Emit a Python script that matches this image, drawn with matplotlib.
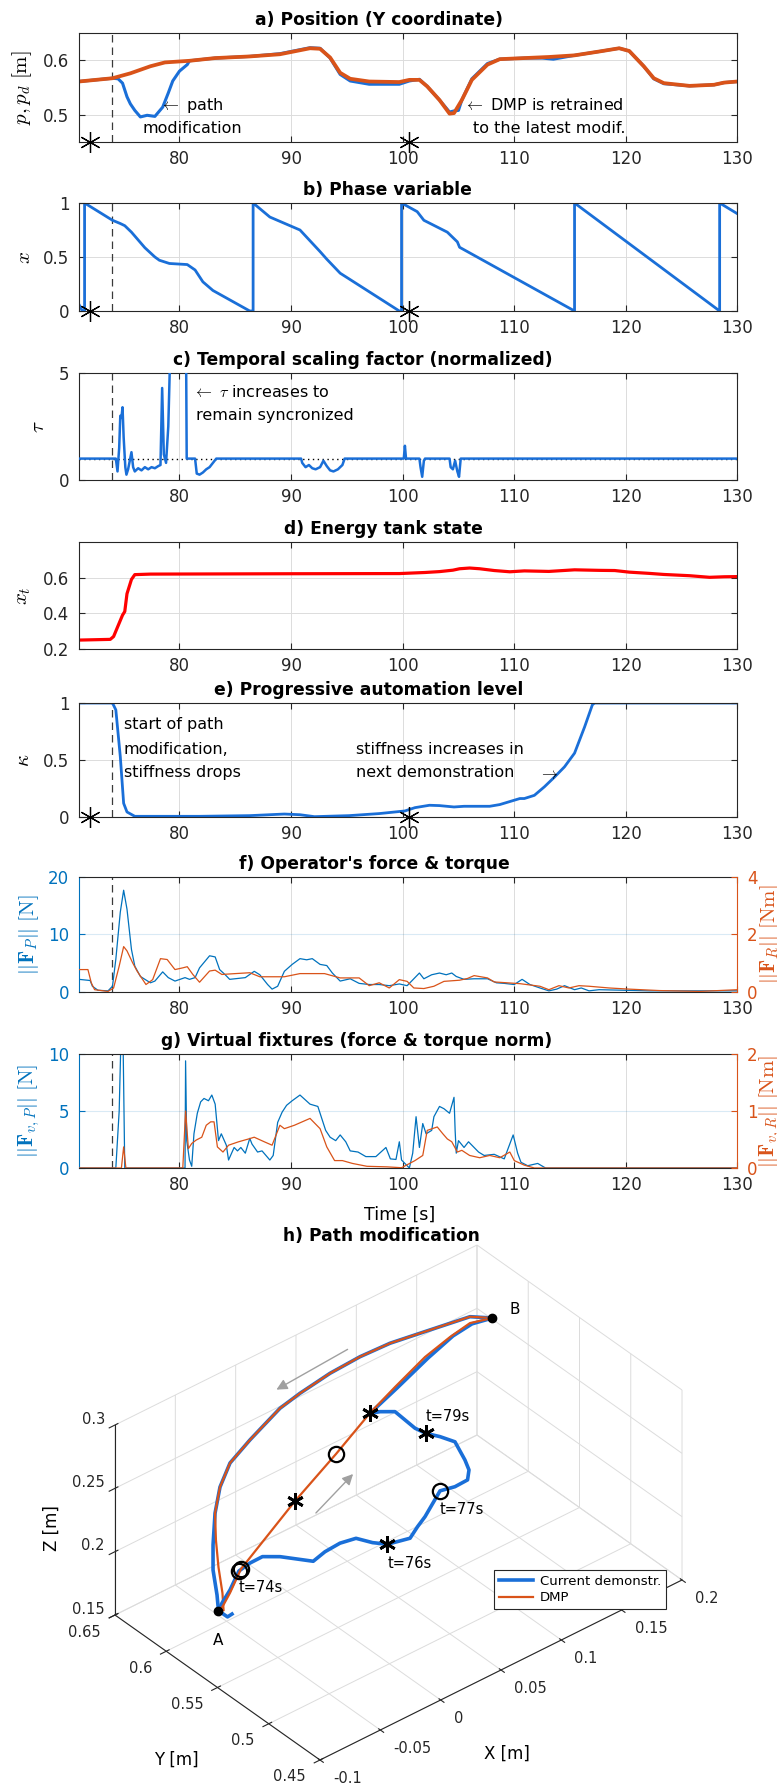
import matplotlib
matplotlib.use('Agg')
import matplotlib.pyplot as plt
import numpy as np

plt.rcParams['font.family'] = ['DejaVu Sans']
plt.rcParams['mathtext.fontset'] = 'cm'

BLUE = '#1A6FD8'
ORANGE = '#D95319'
MBLUE = '#0072BD'
RED = '#FF0000'
AXC = '#262626'
GRIDC = '#DCDCDC'

# ---------------- data ----------------
x_ticks = [80, 90, 100, 110, 120, 130]
t_mod_start = 74.0
t_star = [72.0, 100.6]

# a) position
t_pd = [71, 74, 75.6, 77.4, 78.7, 80.9, 83.2, 86.3, 89, 91.7, 92.6, 93.5, 94.4, 95.3, 97, 99.7,
        100.6, 101.5, 102.2, 103.3, 104.2, 104.6, 105.3, 106.2, 107.6, 108.7, 110.9, 113.1,
        115.4, 117.6, 119.4, 120.3, 121.6, 122.5, 123.4, 125.7, 127.9, 128.8, 130]
p_d = [0.561, 0.567, 0.576, 0.589, 0.596, 0.599, 0.604, 0.607, 0.611, 0.622, 0.621, 0.605,
       0.577, 0.566, 0.561, 0.560, 0.564, 0.564, 0.552, 0.527, 0.502, 0.503, 0.527, 0.564,
       0.592, 0.602, 0.604, 0.606, 0.609, 0.616, 0.622, 0.617, 0.589, 0.567, 0.558, 0.553,
       0.555, 0.559, 0.561]
t_p = [71, 74, 74.5, 74.9, 75.3, 75.6, 76, 76.5, 77.1, 77.8, 78.5, 79.0, 79.4, 80, 80.7, 80.9,
       83.2, 86.3, 89, 91.7, 92.6, 93.5, 94.4, 95.3, 97, 99.7, 100.6, 101.5, 102.2, 103.3,
       104.2, 104.6, 105.0, 105.3, 106.2, 107.6, 108.7, 110.9, 112.5, 113.5, 115.4, 117.6,
       119.4, 120.3, 121.6, 122.5, 123.4, 125.7, 127.9, 128.8, 130]
p_y = [0.561, 0.567, 0.566, 0.558, 0.533, 0.520, 0.508, 0.496, 0.499, 0.497, 0.514, 0.540,
       0.562, 0.580, 0.592, 0.599, 0.604, 0.607, 0.612, 0.623, 0.622, 0.604, 0.574, 0.562,
       0.556, 0.556, 0.562, 0.565, 0.552, 0.527, 0.505, 0.507, 0.508, 0.527, 0.566, 0.594,
       0.602, 0.604, 0.604, 0.602, 0.609, 0.616, 0.622, 0.617, 0.589, 0.566, 0.557, 0.553,
       0.555, 0.559, 0.561]

# b) phase variable
t_phase = [71.0, 71.3, 71.5, 71.5, 74.0, 74.7, 75.1, 75.4, 75.7, 76.9, 77.8, 78.2, 79.1, 80.7,
           81.4, 82.1, 83.0, 86.3, 86.6, 86.6, 88.1, 90.8, 91.7, 92.6, 93.2, 94.4, 99.7, 99.9,
           99.9, 101.3, 101.9, 104.0, 104.6, 104.9, 105.1, 115.4, 115.4, 128.4, 128.4, 130.0]
phase = [0.06, 0.0, 0.0, 1.0, 0.84, 0.81, 0.79, 0.76, 0.73, 0.586, 0.50, 0.47, 0.44, 0.43,
         0.38, 0.27, 0.19, 0.0, 0.0, 1.0, 0.87, 0.75, 0.65, 0.55, 0.48, 0.35, 0.0, 0.0,
         1.0, 0.92, 0.84, 0.73, 0.67, 0.64, 0.59, 0.0, 1.0, 0.0, 1.0, 0.90]

# c) temporal scaling
t_tau = [71.0, 74.3, 74.45, 74.6, 74.7, 74.8, 74.9, 75.0, 75.15, 75.25, 75.4, 75.55, 75.7,
         75.85, 76.0, 76.3, 76.6, 76.9, 77.2, 77.5, 77.8, 78.1, 78.3, 78.45, 78.6, 78.8, 79.0,
         79.15, 80.6, 80.65, 81.4, 81.55, 81.8, 82.1, 82.4, 82.7, 83.0, 83.3, 90.9, 91.0, 91.3,
         91.6, 91.9, 92.2, 92.6, 92.9, 93.2, 93.5, 93.8, 94.2, 94.6, 94.8, 100.1, 100.2, 100.3,
         101.5, 101.6, 101.75, 101.9, 102.0, 104.2, 104.3, 104.5, 104.7, 104.9, 105.05, 105.2,
         130.0]
tau = [1.0, 1.0, 0.4, 1.5, 3.0, 2.9, 3.4, 2.0, 0.6, 0.25, 0.5, 0.9, 1.3, 0.6, 0.4, 0.55, 0.45,
       0.6, 0.5, 0.6, 0.55, 0.65, 0.7, 4.3, 1.2, 0.8, 2.5, 5.5, 5.5, 1.0, 1.0, 0.3, 0.25, 0.35,
       0.5, 0.6, 0.8, 1.0, 1.0, 0.8, 0.6, 0.7, 0.55, 0.5, 0.6, 0.9, 0.65, 0.45, 0.4, 0.5, 0.7,
       1.0, 1.0, 1.6, 1.0, 1.0, 0.6, 0.15, 0.9, 1.0, 1.0, 0.6, 0.5, 0.9, 0.4, 0.15, 1.0, 1.0]
tau_nominal = 1.0

# d) energy tank
t_tank = [71, 73.8, 74.1, 74.4, 74.9, 75.1, 75.3, 75.7, 76, 77.4, 90, 99.7, 102, 103.3, 104.5,
          105.1, 106, 106.9, 108.2, 109.6, 110.9, 113.1, 115.4, 117.6, 119, 120.3, 122.1, 123.4,
          125.7, 127.5, 128.8, 130]
tank = [0.25, 0.254, 0.27, 0.315, 0.39, 0.41, 0.51, 0.59, 0.617, 0.62, 0.622, 0.623, 0.629,
        0.634, 0.642, 0.650, 0.654, 0.650, 0.640, 0.633, 0.638, 0.635, 0.644, 0.641, 0.640,
        0.631, 0.624, 0.618, 0.611, 0.602, 0.605, 0.606]

# e) automation level
t_kappa = [71, 74.0, 74.3, 74.7, 75.0, 75.3, 76, 81.8, 86.3, 89.4, 90.8, 92.1, 95.2, 97.9,
           100.2, 101.1, 102.4, 103.3, 104.6, 105.5, 107.8, 108.7, 110.5, 110.9, 111.8, 112.7,
           113.6, 114.5, 115.4, 116.3, 117.0, 117.2, 130]
kappa = [1, 1, 0.94, 0.53, 0.12, 0.044, 0.006, 0.006, 0.012, 0.026, 0.02, 0.003, 0.012, 0.03,
         0.053, 0.082, 0.103, 0.10, 0.088, 0.094, 0.094, 0.109, 0.162, 0.162, 0.19, 0.265,
         0.35, 0.44, 0.56, 0.79, 0.985, 1.0, 1.0]

# f) operator force / torque
t_fp = [71, 72, 72.2, 72.7, 73.6, 74, 74.3, 74.7, 75, 75.3, 75.7, 76, 76.5, 77.4, 77.8, 78.5,
        79, 79.6, 80.5, 80.9, 81.4, 81.8, 82.7, 83.2, 83.6, 84.1, 84.5, 85.9, 86.7, 87.2, 87.9,
        88.3, 88.8, 89.4, 90.1, 90.8, 91.4, 91.9, 92.6, 93.2, 93.7, 94.4, 95.3, 96.1, 97.0,
        97.9, 98.8, 99.7, 100.4, 100.8, 101.5, 101.9, 102.6, 103.3, 103.9, 104.4, 104.8, 105.5,
        106.4, 107.6, 108.4, 109.1, 110.0, 110.7, 111.4, 112.3, 113.1, 113.8, 114.5, 115.4,
        116.0, 116.7, 117.6, 119.9, 122.1, 130]
f_p = [2.2, 2.0, 1.0, 0.3, 0.2, 1.0, 5.7, 13.9, 17.7, 14.4, 7.4, 4.5, 2.7, 1.6, 1.9, 3.5, 2.5,
       1.9, 2.5, 2.2, 2.5, 4.2, 6.3, 6.1, 3.9, 3.0, 2.2, 2.5, 3.6, 3.0, 1.3, 0.5, 1.0, 3.6,
       4.8, 5.8, 5.6, 5.8, 4.8, 4.6, 3.3, 1.9, 2.3, 1.5, 1.3, 1.3, 1.1, 1.4, 1.1, 1.9, 3.3,
       2.3, 3.0, 3.3, 3.0, 3.3, 2.7, 2.2, 2.3, 2.3, 1.6, 1.5, 1.3, 2.2, 1.3, 0.7, 0.2, 0.5,
       1.1, 0.4, 0.7, 0.2, 0.4, 0.3, 0.2, 0.2]
t_fr = [71, 71.8, 72.1, 72.4, 73.6, 74.1, 74.6, 75, 75.3, 75.8, 76.2, 77, 77.6, 78.3, 78.9,
        79.6, 80.3, 80.7, 81.2, 81.8, 82.7, 83.2, 83.8, 85, 86.3, 87.2, 89.4, 90.8, 93, 94.4,
        96.1, 97, 97.9, 98.8, 99.7, 100.4, 101, 101.9, 102.8, 103.7, 105.1, 105.8, 106.4,
        107.6, 108.2, 110.5, 112.3, 113.1, 114, 114.9, 115.8, 116.7, 118.5, 120.3, 123, 126.6,
        130]
f_r = [0.78, 0.78, 0.32, 0.08, 0.02, 0.14, 0.9, 1.58, 1.43, 1.02, 0.73, 0.26, 0.43, 1.16,
       1.13, 0.78, 0.84, 0.88, 0.61, 0.34, 0.73, 0.76, 0.61, 0.64, 0.67, 0.53, 0.53, 0.64,
       0.64, 0.49, 0.49, 0.22, 0.32, 0.14, 0.43, 0.37, 0.14, 0.12, 0.2, 0.37, 0.41, 0.47,
       0.57, 0.49, 0.35, 0.29, 0.2, 0.08, 0.22, 0.14, 0.22, 0.2, 0.14, 0.1, 0.05, 0.02, 0.08]

# g) virtual fixtures
t_vp = [71, 74.3, 74.6, 74.75, 74.95, 75.1, 80.5, 80.55, 80.65, 80.9, 81.1, 81.3, 81.6, 81.9,
        82.2, 82.6, 82.9, 83.2, 83.5, 83.75, 84.2, 84.4, 84.9, 85.2, 85.5, 85.9, 86.3, 86.5,
        87.0, 87.4, 88.1, 88.4, 88.8, 89.2, 89.6, 90.1, 90.8, 91.7, 92.4, 93.1, 93.5, 94.0,
        94.4, 94.9, 95.3, 96.0, 96.7, 97.6, 98.5, 98.9, 99.4, 99.7, 99.9, 100.2, 100.6, 100.9,
        101.2, 101.5, 101.8, 102.1, 102.6, 102.8, 103.3, 103.7, 104.2, 104.6, 104.7, 104.8,
        105.0, 105.5, 105.9, 106.8, 107.3, 108.2, 109.1, 109.9, 110.3, 110.6, 111.2, 112.1,
        112.8, 113.1, 130]
f_vp = [0, 0, 5.0, 11.0, 11.0, 0, 0, 9.4, 2.4, 0.7, 0.15, 3.0, 4.8, 5.8, 6.1, 5.9, 6.4, 5.6,
        2.4, 3.0, 2.0, 0.7, 1.8, 1.5, 1.8, 1.3, 2.6, 2.1, 1.4, 1.5, 0.7, 1.1, 4.0, 4.9, 5.5,
        5.9, 6.4, 5.6, 5.4, 3.3, 2.7, 2.4, 2.9, 2.3, 1.5, 1.4, 1.0, 1.0, 1.8, 0.8, 0.75, 2.3,
        0.7, 0.4, 0.0, 1.3, 4.5, 1.8, 3.9, 3.0, 3.3, 4.5, 5.4, 5.2, 4.8, 6.2, 3.3, 1.3, 2.4,
        1.8, 2.3, 1.4, 1.1, 1.2, 0.8, 2.9, 1.3, 0.5, 0.2, 0.4, 0.0, 0.0, 0.0]
t_vr = [71, 74.8, 75.0, 75.2, 80.3, 80.55, 80.8, 81.1, 81.5, 82.0, 82.4, 82.8, 83.1, 83.4,
        83.9, 84.4, 85.3, 86.2, 86.7, 87.6, 88.3, 89.0, 89.4, 90.3, 91.0, 91.7, 92.6, 93.2,
        93.9, 94.6, 95.5, 96.8, 98.6, 99.9, 101.1, 101.8, 102.2, 103.1, 103.6, 104.0, 104.4,
        104.9, 105.3, 106.0, 106.9, 107.8, 108.7, 109.6, 110.0, 110.9, 111.8, 113.1, 130]
f_vr = [0, 0, 0.37, 0, 0, 1.0, 0.34, 0.43, 0.49, 0.54, 0.75, 0.81, 0.81, 0.37, 0.28, 0.40,
        0.46, 0.51, 0.54, 0.46, 0.40, 0.75, 0.69, 0.75, 0.81, 0.87, 0.69, 0.37, 0.13, 0.13,
        0.08, 0.03, 0.02, 0.005, 0.13, 0.22, 0.66, 0.72, 0.60, 0.51, 0.46, 0.28, 0.31, 0.22,
        0.18, 0.22, 0.18, 0.28, 0.13, 0.05, 0.0, 0.0, 0.0]

# h) 3-D path modification
x_lim3, y_lim3, z_lim3 = (-0.1, 0.2), (0.45, 0.65), (0.15, 0.3)
x_ticks3 = [-0.1, -0.05, 0, 0.05, 0.1, 0.15, 0.2]
x_labels3 = ['-0.1', '-0.05', '0', '0.05', '0.1', '0.15', '0.2']
y_ticks3 = [0.45, 0.5, 0.55, 0.6, 0.65]
y_labels3 = ['0.45', '0.5', '0.55', '0.6', '0.65']
z_ticks3 = [0.15, 0.2, 0.25, 0.3]
z_labels3 = ['0.15', '0.2', '0.25', '0.3']

dmp_x = [-0.0907, -0.0865, -0.0786, -0.0661, -0.0069, 0.0313, 0.0663, 0.0896, 0.117, 0.1394, 0.1568, 0.1763]
dmp_y = [0.560, 0.561, 0.563, 0.567, 0.584, 0.589, 0.597, 0.600, 0.603, 0.605, 0.606, 0.607]
dmp_z = [0.2005, 0.2011, 0.2071, 0.2178, 0.2336, 0.2498, 0.261, 0.2688, 0.2778, 0.2818, 0.284, 0.2782]

arc_x = [0.1763, 0.1619, 0.128, 0.1016, 0.0784, 0.0544, 0.0295, 0.0113, -0.0054, -0.0306, -0.0599,
         -0.0767, -0.0876, -0.0935, -0.0952, -0.0919, -0.0907, -0.0849, -0.0812]
arc_y = [0.607, 0.612, 0.616, 0.619, 0.621, 0.622, 0.622, 0.620, 0.615, 0.600, 0.585, 0.575,
         0.567, 0.562, 0.560, 0.560, 0.560, 0.558, 0.558]
arc_z = [0.2782, 0.2832, 0.2852, 0.2868, 0.286, 0.2837, 0.2797, 0.2777, 0.276, 0.284, 0.2882,
         0.2829, 0.272, 0.2526, 0.2348, 0.2135, 0.2005, 0.194, 0.1945]

darc_x = [0.1763, 0.1619, 0.128, 0.1016, 0.0784, 0.0544, 0.0295, 0.0113, -0.0054, -0.0306, -0.0599,
          -0.0767, -0.0876, -0.0911, -0.0907, -0.0874, -0.0865]
darc_y = [0.607, 0.612, 0.616, 0.619, 0.621, 0.622, 0.622, 0.620, 0.615, 0.600, 0.585, 0.575,
          0.567, 0.562, 0.560, 0.560, 0.560]
darc_z = [0.2782, 0.2832, 0.2852, 0.2868, 0.286, 0.2837, 0.2797, 0.2777, 0.276, 0.284, 0.2882,
          0.2829, 0.272, 0.2553, 0.2349, 0.2129, 0.199]

mod_x = [-0.0907, -0.0869, -0.0786, -0.0678, -0.0629, -0.0585, -0.0524, -0.0334, -0.0305, -0.024,
         -0.0158, -0.0055, 0.0052, 0.0171, 0.0216, 0.027, 0.0411, 0.0526, 0.0622, 0.0634, 0.0626,
         0.0713, 0.0674, 0.0682, 0.0722, 0.0709, 0.067, 0.0646, 0.0912, 0.1195, 0.1419, 0.1585, 0.1763]
mod_y = [0.560, 0.561, 0.563, 0.567, 0.562, 0.555, 0.545, 0.535, 0.527, 0.520, 0.514, 0.510,
         0.508, 0.500, 0.498, 0.497, 0.499, 0.498, 0.497, 0.497, 0.500, 0.520, 0.530, 0.545,
         0.560, 0.578, 0.588, 0.595, 0.600, 0.603, 0.605, 0.606, 0.607]
mod_z = [0.2005, 0.2042, 0.2094, 0.217, 0.2238, 0.2308, 0.2336, 0.2267, 0.2374, 0.2451, 0.2485,
         0.2425, 0.2373, 0.241, 0.2491, 0.2551, 0.2676, 0.266, 0.2674, 0.2747, 0.2812, 0.280,
         0.2802, 0.2739, 0.2674, 0.2708, 0.2669, 0.2627, 0.2672, 0.2758, 0.2815, 0.2826, 0.2782]

mark_times = ['t=74s', 't=76s', 't=77s', 't=79s']
mark_kind = ['o', '*', 'o', '*']
dmp_mark_x = [-0.0661, -0.0069, 0.0313, 0.0663]
dmp_mark_y = [0.567, 0.584, 0.589, 0.597]
dmp_mark_z = [0.2178, 0.2336, 0.2498, 0.261]
cur_mark_x = [-0.0678, 0.0052, 0.0411, 0.0682]
cur_mark_y = [0.567, 0.508, 0.499, 0.545]
cur_mark_z = [0.217, 0.2373, 0.2676, 0.2739]
label_dz = [-0.0134, -0.015, -0.015, 0.0134]

pt_A = (-0.0907, 0.560, 0.2005)
pt_B = (0.1763, 0.607, 0.2782)

# ---------------- figure ----------------
W, H = 777, 1787
fig = plt.figure(figsize=(W / 100, H / 100), dpi=100)

L, R = 79, 737.5


def rect(top, bottom):
    return [L / W, 1 - bottom / H, (R - L) / W, (bottom - top) / H]


AST = (6, 2, 0)


def base(ax, ylim, yticks, yticklabels, title, tx, dashed=True, stars=None):
    ax.set_xlim(71, 130)
    ax.set_ylim(*ylim)
    ax.set_xticks(x_ticks)
    ax.set_xticklabels([str(v) for v in x_ticks])
    ax.set_yticks(yticks)
    ax.set_yticklabels(yticklabels)
    ax.grid(True, color=GRIDC, lw=0.7)
    ax.set_axisbelow(True)
    ax.tick_params(direction='in', top=True, right=True, length=4, width=0.8,
                   labelsize=12, colors=AXC)
    ax.tick_params(axis='x', pad=6)
    ax.tick_params(axis='y', pad=7)
    for s in ax.spines.values():
        s.set_color(AXC)
        s.set_linewidth(0.8)
    ax.set_title(title, fontweight='bold', fontsize=12.3, x=tx, pad=6)
    if dashed:
        ax.axvline(t_mod_start, color='#3A3A3A', ls=(0, (6, 4)), lw=0.9, zorder=1.5)
    if stars is not None:
        ax.plot(t_star, stars, ls='none', marker=AST, ms=15, mec='k', mew=0.9,
                clip_on=False, zorder=5)


def ylab(ax, text, xpx, size=15, color='k'):
    ax.set_ylabel(text, fontsize=size, color=color, va='center', rotation=90)
    ax.yaxis.set_label_coords((xpx - L) / (R - L), 0.5)


# a
ax = fig.add_axes(rect(33, 142))
ax.plot(t_p, p_y, color=BLUE, lw=2.2)
ax.plot(t_pd, p_d, color=ORANGE, lw=2.7)
base(ax, (0.45, 0.65), [0.5, 0.6], ['0.5', '0.6'], 'a) Position (Y coordinate)', 0.4556,
     stars=[0.45, 0.45])
ylab(ax, r'$p, p_d\ [\mathrm{m}]$', 22.5)
ax.text(78.3, 0.5175, r'$\leftarrow$ path', fontsize=11.5, va='center', ha='left')
ax.text(76.7, 0.474, 'modification', fontsize=11.5, va='center', ha='left')
ax.text(105.5, 0.5175, r'$\leftarrow$ DMP is retrained', fontsize=11.5, va='center', ha='left')
ax.text(106.3, 0.474, 'to the latest modif.', fontsize=11.5, va='center', ha='left')

# b
ax = fig.add_axes(rect(203, 311))
ax.plot(t_phase, phase, color=BLUE, lw=2.0)
base(ax, (0, 1), [0, 0.5, 1], ['0', '0.5', '1'], 'b) Phase variable', 0.4685,
     stars=[0, 0])
ylab(ax, r'$x$', 24)

# c
ax = fig.add_axes(rect(373, 480))
ax.axhline(tau_nominal, color='k', ls=(0, (1, 2.5)), lw=1.0, zorder=2)
ax.plot(t_tau, tau, color=BLUE, lw=1.8, zorder=3)
base(ax, (0, 5), [0, 5], ['0', '5'], 'c) Temporal scaling factor (normalized)', 0.4313)
ylab(ax, r'$\tau$', 37.5)
ax.text(81.2, 4.1, r'$\leftarrow\ \tau$ increases to', fontsize=11.5, va='center', ha='left')
ax.text(81.5, 3.03, 'remain syncronized', fontsize=11.5, va='center', ha='left')

# d
ax = fig.add_axes(rect(542, 649))
ax.plot(t_tank, tank, color=RED, lw=2.3)
base(ax, (0.2, 0.8), [0.2, 0.4, 0.6], ['0.2', '0.4', '0.6'], 'd) Energy tank state', 0.4617,
     dashed=False)
ylab(ax, r'$x_t$', 22.5)

# e
ax = fig.add_axes(rect(703, 817))
ax.plot(t_kappa, kappa, color=BLUE, lw=2.0)
base(ax, (0, 1), [0, 0.5, 1], ['0', '0.5', '1'], 'e) Progressive automation level', 0.4404,
     stars=[0, 0])
ylab(ax, r'$\kappa$', 22.5)
for txt, v in [('start of path', 0.81), ('modification,', 0.588), ('stiffness drops', 0.388)]:
    ax.text(75.0, v, txt, fontsize=11.5, va='center', ha='left')
ax.text(95.8, 0.588, 'stiffness increases in', fontsize=11.5, va='center', ha='left')
ax.text(95.8, 0.388, 'next demonstration', fontsize=11.5, va='center', ha='left')
ax.text(112.2, 0.37, r'$\rightarrow$', fontsize=11.5, va='center', ha='left')


def dual(top, bottom, t1, v1, ylim1, yt1, t2, v2, ylim2, yt2, title, tx, lab1, lab2):
    ax = fig.add_axes(rect(top, bottom))
    ax2 = ax.twinx()
    ax.plot(t1, v1, color=MBLUE, lw=0.9)
    ax2.plot(t2, v2, color=ORANGE, lw=0.9)
    ax.set_xlim(71, 130)
    ax.set_ylim(*ylim1)
    ax2.set_ylim(*ylim2)
    ax.set_xticks(x_ticks)
    ax.set_yticks(yt1)
    ax.set_yticklabels([str(v) for v in yt1])
    ax2.set_yticks(yt2)
    ax2.set_yticklabels([str(v) for v in yt2])
    ax.grid(True, axis='x', color=GRIDC, lw=0.7)
    ax.grid(True, axis='y', color=MBLUE, alpha=0.15, lw=0.8)
    ax.set_axisbelow(True)
    ax.tick_params(axis='x', direction='in', top=True, length=4, width=0.8, labelsize=12,
                   colors=AXC, pad=6)
    ax.tick_params(axis='y', direction='in', length=4, width=0.8, labelsize=12, colors=MBLUE,
                   pad=7)
    ax2.tick_params(axis='y', direction='in', length=4, width=0.8, labelsize=12, colors=ORANGE,
                    pad=7)
    for k in ['top', 'bottom']:
        ax.spines[k].set_color(AXC)
        ax.spines[k].set_linewidth(0.8)
    ax.spines['left'].set_color(MBLUE)
    ax.spines['right'].set_visible(False)
    for k in ['top', 'bottom', 'left']:
        ax2.spines[k].set_visible(False)
    ax2.spines['right'].set_color(ORANGE)
    ax.set_title(title, fontweight='bold', fontsize=12.3, x=tx, pad=6)
    ax.axvline(t_mod_start, color='#3A3A3A', ls=(0, (6, 4)), lw=0.9, zorder=1.5)
    ylab(ax, lab1, 29, size=15, color=MBLUE)
    ax2.set_ylabel(lab2, fontsize=15, color=ORANGE, va='center', rotation=90)
    ax2.yaxis.set_label_coords((770 - L) / (R - L), 0.5)
    return ax, ax2


dual(877, 992, t_fp, f_p, (0, 20), [0, 10, 20], t_fr, f_r, (0, 4), [0, 2, 4],
     "f) Operator's force & torque", 0.448,
     r'$||\mathbf{F}_P||\ [\mathrm{N}]$', r'$||\mathbf{F}_R||\ [\mathrm{Nm}]$')
axg, axg2 = dual(1054, 1168, t_vp, f_vp, (0, 10), [0, 5, 10], t_vr, f_vr, (0, 2), [0, 1, 2],
                 'g) Virtual fixtures (force & torque norm)', 0.4222,
                 r'$||\mathbf{F}_{v,P}||\ [\mathrm{N}]$', r'$||\mathbf{F}_{v,R}||\ [\mathrm{Nm}]$')
axg.set_xlabel('Time [s]', fontsize=12.5, va='center')
axg.xaxis.set_label_coords((399.5 - L) / (R - L), -(1215 - 1168) / (1168 - 1054))

# ---------------- h) 3-D ----------------
fig.text(381 / W, 1 - 1236 / H, 'h) Path modification', fontweight='bold', fontsize=12.3,
         ha='center', va='center')

S0 = 623.0
ax3 = fig.add_axes([80 / W, (H - 1822) / H, S0 / W, S0 / H], projection='3d', proj_type='ortho')
ax3.patch.set_alpha(0)
ax3.computed_zorder = False
ax3.set_xlim(*x_lim3)
ax3.set_ylim(*y_lim3)
ax3.set_zlim(*z_lim3)

# --- fit the view so that the box corners land where the reference draws them ---
box_c = np.array([[x_lim3[0], y_lim3[0], z_lim3[0]],
                  [x_lim3[1], y_lim3[0], z_lim3[0]],
                  [x_lim3[0], y_lim3[1], z_lim3[0]],
                  [x_lim3[0], y_lim3[1], z_lim3[1]]])
tgt_img = np.array([[320.0, 1760.0], [682.0, 1580.0], [115.0, 1615.0], [115.0, 1425.0]])
tgt = np.column_stack([tgt_img[:, 0], H - tgt_img[:, 1]])
t_ex, t_ey, t_ez = tgt[1] - tgt[0], tgt[2] - tgt[0], tgt[3] - tgt[2]


def proj2(axx, pts):
    M = axx.get_proj()
    v = np.vstack([np.asarray(pts, float).T, np.ones(len(pts))])
    r = M @ v
    return np.column_stack([r[0] / r[3], r[1] / r[3]])


def view_err(el, az):
    ax3.view_init(elev=el, azim=az)
    P = proj2(ax3, box_c)
    ds = (P[1] - P[0], P[2] - P[0], P[3] - P[2])
    err, cs = 0.0, []
    for d, t in zip(ds, (t_ex, t_ey, t_ez)):
        c = float(d @ t) / float(d @ d)
        cs.append(c)
        err += float(np.sum((t - c * d) ** 2))
    return err, cs


ax3.set_box_aspect((1, 1, 1))
best = None
for el in np.arange(15, 65.01, 1.0):
    for az in np.arange(-170, -89.99, 1.0):
        e, cs = view_err(el, az)
        if min(cs) > 0 and (best is None or e < best[0]):
            best = (e, el, az, cs)
for step, span in ((0.1, 1.0), (0.01, 0.1)):
    e0, el0, az0, _ = best
    for el in np.arange(el0 - span, el0 + span + 1e-9, step):
        for az in np.arange(az0 - span, az0 + span + 1e-9, step):
            e, cs = view_err(el, az)
            if min(cs) > 0 and e < best[0]:
                best = (e, el, az, cs)
_, EL, AZ, CS = best
ax3.view_init(elev=EL, azim=AZ)
ax3.set_box_aspect(tuple(CS))

# position/scale fit
pos = ax3.get_position()
l0, b0, s0 = pos.x0 * W, pos.y0 * H, pos.width * W
P = ax3.transData.transform(proj2(ax3, box_c))
fr = (P - np.array([l0, b0])) / s0
A_rows, rhs = [], []
for i in range(len(fr)):
    A_rows.append([1, 0, fr[i, 0]]); rhs.append(tgt[i, 0])
    A_rows.append([0, 1, fr[i, 1]]); rhs.append(tgt[i, 1])
sol, *_ = np.linalg.lstsq(np.array(A_rows), np.array(rhs), rcond=None)
l1, b1, s1 = sol
ax3.set_position([l1 / W, b1 / H, s1 / W, s1 / H])

ax3.set_xticks(x_ticks3)
ax3.set_xticklabels([''] * len(x_ticks3))
ax3.set_yticks(y_ticks3)
ax3.set_yticklabels([''] * len(y_ticks3))
ax3.set_zticks(z_ticks3)
ax3.set_zticklabels([''] * len(z_ticks3))
for axis in (ax3.xaxis, ax3.yaxis, ax3.zaxis):
    axis.set_pane_color((1, 1, 1, 0))
    axis.pane.set_edgecolor((1, 1, 1, 0))
    axis._axinfo['grid'].update(color='#DCDCDC', linewidth=0.7)
    axis.line.set_color(AXC)
    axis.line.set_linewidth(0.8)
    axis.offsetText.set_visible(False)
ax3.tick_params(colors=AXC)


def to_img(pts):
    Pd = ax3.transData.transform(proj2(ax3, pts))
    return np.column_stack([Pd[:, 0], H - Pd[:, 1]])


# tick labels placed next to the projected tick positions
for (px, py), lab in zip(to_img([[v, y_lim3[0], z_lim3[0]] for v in x_ticks3]), x_labels3):
    fig.text((px + 13) / W, 1 - (py + 19) / H, lab, fontsize=10.5, ha='left', va='center',
             color=AXC)
for (px, py), lab in zip(to_img([[x_lim3[0], v, z_lim3[0]] for v in y_ticks3]), y_labels3):
    fig.text((px - 14) / W, 1 - (py + 17) / H, lab, fontsize=10.5, ha='right', va='center',
             color=AXC)
for (px, py), lab in zip(to_img([[x_lim3[0], y_lim3[1], v] for v in z_ticks3]), z_labels3):
    fig.text((px - 10) / W, 1 - (py - 6) / H, lab, fontsize=10.5, ha='right', va='center',
             color=AXC)

fig.text(507 / W, 1 - 1754 / H, 'X [m]', fontsize=12, ha='center', va='center')
fig.text(176 / W, 1 - 1760 / H, 'Y [m]', fontsize=12, ha='center', va='center')
fig.text(52 / W, 1 - 1528 / H, 'Z [m]', fontsize=12, ha='center', va='center', rotation=90)

ax3.plot(arc_x, arc_y, arc_z, color=BLUE, lw=2.6)
ax3.plot(darc_x, darc_y, darc_z, color=ORANGE, lw=1.6)
ax3.plot(mod_x, mod_y, mod_z, color=BLUE, lw=2.6, label='Current demonstr.')
ax3.plot(dmp_x, dmp_y, dmp_z, color=ORANGE, lw=1.6, label='DMP')
for i in range(4):
    if mark_kind[i] == 'o':
        kw = dict(marker='o', ms=11, mfc='none', mec='k', mew=1.6)
    else:
        kw = dict(marker=AST, ms=12, mec='k', mew=2.0)
    ax3.plot([dmp_mark_x[i]], [dmp_mark_y[i]], [dmp_mark_z[i]], ls='none', **kw)
    ax3.plot([cur_mark_x[i]], [cur_mark_y[i]], [cur_mark_z[i]], ls='none', **kw)
    ax3.text(cur_mark_x[i], cur_mark_y[i], cur_mark_z[i] + label_dz[i], mark_times[i],
             fontsize=10.5, ha='left', va='center')
ax3.plot([pt_A[0], pt_B[0]], [pt_A[1], pt_B[1]], [pt_A[2], pt_B[2]], ls='none', marker='o',
         ms=6, color='k')
ax3.text(pt_A[0], pt_A[1], pt_A[2] - 0.0237, 'A', fontsize=11, ha='center', va='center')
ax3.text(pt_B[0] + 0.0187, pt_B[1], pt_B[2] - 0.0025, 'B', fontsize=11, ha='center', va='center')

leg = ax3.legend(loc='upper left', bbox_to_anchor=(487 / W, 1 - 1563 / H),
                 bbox_transform=fig.transFigure, fontsize=9.5, frameon=True, fancybox=False,
                 edgecolor=AXC, framealpha=1, handlelength=2.6, labelspacing=0.25,
                 borderpad=0.4, handletextpad=0.5)
leg.get_frame().set_linewidth(0.8)

arrow_kw = dict(arrowstyle='-|>', color='#A0A0A0', lw=1.0, mutation_scale=16)
fig.patches.append(matplotlib.patches.FancyArrowPatch(
    (350 / W, 1 - 1348 / H), (274 / W, 1 - 1391 / H), transform=fig.transFigure, **arrow_kw))
fig.patches.append(matplotlib.patches.FancyArrowPatch(
    (314 / W, 1 - 1515 / H), (355 / W, 1 - 1472 / H), transform=fig.transFigure, **arrow_kw))

fig.savefig('out.png', dpi=100)
